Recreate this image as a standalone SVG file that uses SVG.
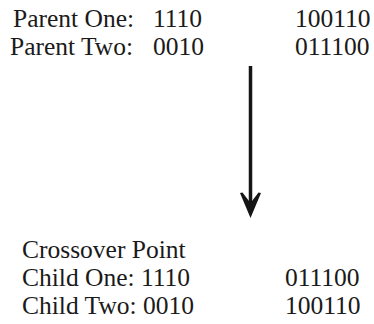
<svg xmlns="http://www.w3.org/2000/svg" width="374" height="324" viewBox="0 0 374 324">
<style>
text{font-family:"Liberation Serif","Times New Roman",serif;font-size:25.5px;fill:#1a1a1a}
</style>
<rect width="374" height="324" fill="#fff"/>
<g id="parents">
<text x="13" y="27">Parent One:</text>
<text x="153" y="27">1110</text>
<text x="295" y="27">100110</text>
<text x="10" y="55">Parent Two:</text>
<text x="153" y="55">0010</text>
<text x="295" y="55">011100</text>
</g>
<g id="connectors">
<line x1="250.5" y1="66" x2="250.5" y2="205" stroke="#151515" stroke-width="3.5"/>
<path d="M250.5,218 L240,193 L242.5,192.5 L250.5,203 L258.5,192.5 L261,193 Z" fill="#151515"/>
</g>
<g id="children">
<text x="22" y="258">Crossover Point</text>
<text x="22" y="286">Child One: 1110</text>
<text x="285" y="286">011100</text>
<text x="22" y="314">Child Two: 0010</text>
<text x="285" y="314">100110</text>
</g>
</svg>
